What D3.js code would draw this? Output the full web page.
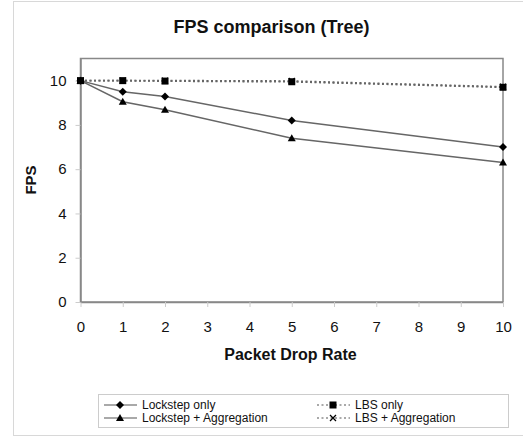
<!DOCTYPE html>
<html>
<head>
<meta charset="utf-8">
<script src="https://cdn.jsdelivr.net/npm/d3@7"></script>
<style>
  body { margin: 0; background: #fff; }
  text { font-family: "Liberation Sans", Arial, sans-serif; fill: #111; }
</style>
</head>
<body>
<div id="chart"></div>
<script>
// data
const dropRates = [0, 1, 2, 5, 10];
const lockstepOnly = [10, 9.5, 9.28, 8.2, 7.0];
const lockstepAgg = [10, 9.05, 8.68, 7.4, 6.3];
const lbsOnly = [10, 10, 9.98, 9.95, 9.7];
const lbsAgg = [10, 10, 10, 9.98, 9.72];
const xTicks = [0, 1, 2, 3, 4, 5, 6, 7, 8, 9, 10];
const yTicks = [0, 2, 4, 6, 8, 10];

const series = [
  {name: "Lockstep only", values: lockstepOnly, dash: null, marker: "diamond"},
  {name: "LBS only", values: lbsOnly, dash: "2,2.5", marker: "square"},
  {name: "Lockstep + Aggregation", values: lockstepAgg, dash: null, marker: "triangle"},
  {name: "LBS + Aggregation", values: lbsAgg, dash: "2,2.5", marker: "cross"}
];

const W = 523, H = 437;
const margin = {top: 58.5, right: 20, bottom: 135, left: 80.5};
const width = 503 - margin.left;
const height = 302 - margin.top;

const svg = d3.select("#chart").append("svg")
  .attr("width", W).attr("height", H);

// outer frame
svg.append("rect")
  .attr("x", 13.5).attr("y", 1.5).attr("width", 540).attr("height", 434)
  .attr("fill", "none").attr("stroke", "#d8d8d8");

const g = svg.append("g")
  .attr("transform", "translate(" + margin.left + "," + margin.top + ")");

const x = d3.scaleLinear().domain([0, 10]).range([0, width]);
const y = d3.scaleLinear().domain([0, 11]).range([height, 0]);

// plot border
g.append("rect")
  .attr("width", width).attr("height", height)
  .attr("fill", "none").attr("stroke", "#888").attr("stroke-width", 1.5);

// axes
const xAxis = g.append("g")
  .attr("transform", "translate(0," + height + ")")
  .call(d3.axisBottom(x).tickValues(xTicks).tickSize(5).tickSizeOuter(0).tickPadding(14));
const yAxis = g.append("g")
  .call(d3.axisLeft(y).tickValues(yTicks).tickSize(5).tickSizeOuter(0).tickPadding(9));
[xAxis, yAxis].forEach(a => {
  a.select(".domain").attr("stroke", "#888").attr("stroke-width", 1.5);
  a.selectAll(".tick line").attr("stroke", "#ccc");
  a.selectAll(".tick text").style("font-size", "15px").attr("fill", "#111");
});

// titles
svg.append("text")
  .attr("x", 271.5).attr("y", 33)
  .attr("text-anchor", "middle")
  .style("font-size", "18px").style("font-weight", "bold")
  .text("FPS comparison (Tree)");

svg.append("text")
  .attr("x", 290.5).attr("y", 360)
  .attr("text-anchor", "middle")
  .style("font-size", "16px").style("font-weight", "bold")
  .text("Packet Drop Rate");

svg.append("text")
  .attr("transform", "translate(36,180) rotate(-90)")
  .attr("text-anchor", "middle")
  .style("font-size", "15px").style("font-weight", "bold")
  .text("FPS");

// markers
function drawMarker(sel, type, cx, cy) {
  if (type === "diamond") {
    sel.append("path")
      .attr("d", "M" + cx + "," + (cy - 4) + "L" + (cx + 4) + "," + cy + "L" + cx + "," + (cy + 4) + "L" + (cx - 4) + "," + cy + "Z")
      .attr("fill", "#000");
  } else if (type === "square") {
    sel.append("rect")
      .attr("x", cx - 3.5).attr("y", cy - 3.5).attr("width", 7).attr("height", 7)
      .attr("fill", "#000");
  } else if (type === "triangle") {
    sel.append("path")
      .attr("d", "M" + cx + "," + (cy - 4) + "L" + (cx + 4) + "," + (cy + 3) + "L" + (cx - 4) + "," + (cy + 3) + "Z")
      .attr("fill", "#000");
  } else if (type === "cross") {
    sel.append("path")
      .attr("d", "M" + (cx - 3) + "," + (cy - 3) + "L" + (cx + 3) + "," + (cy + 3) + "M" + (cx + 3) + "," + (cy - 3) + "L" + (cx - 3) + "," + (cy + 3))
      .attr("stroke", "#000").attr("stroke-width", 1.3);
  }
}

const line = d3.line()
  .x((d, i) => x(dropRates[i]))
  .y(d => y(d));

// cross series first so squares sit on top of them
const drawOrder = [series[3], series[2], series[0], series[1]];
drawOrder.forEach(s => {
  g.append("path")
    .datum(s.values)
    .attr("d", line)
    .attr("fill", "none")
    .attr("stroke", "#666")
    .attr("stroke-width", s.dash ? 1.8 : 1.5)
    .attr("stroke-dasharray", s.dash);
  s.values.forEach((v, i) => drawMarker(g, s.marker, x(dropRates[i]), y(v)));
});

// legend
const legend = svg.append("g");
legend.append("rect")
  .attr("x", 98.5).attr("y", 394.5).attr("width", 410).attr("height", 33)
  .attr("fill", "#fff").attr("stroke", "#ccc");

series.forEach((s, i) => {
  const col = i % 2, row = Math.floor(i / 2);
  const lx = col === 0 ? 104 : 317;
  const ly = 405 + row * 13;
  legend.append("line")
    .attr("x1", lx).attr("x2", lx + 33)
    .attr("y1", ly).attr("y2", ly)
    .attr("stroke", "#555").attr("stroke-width", 1.2)
    .attr("stroke-dasharray", s.dash);
  drawMarker(legend, s.marker, lx + 16, ly);
  legend.append("text")
    .attr("x", lx + 38).attr("y", ly + 4)
    .style("font-size", "12px")
    .text(s.name);
});
</script>
</body>
</html>
